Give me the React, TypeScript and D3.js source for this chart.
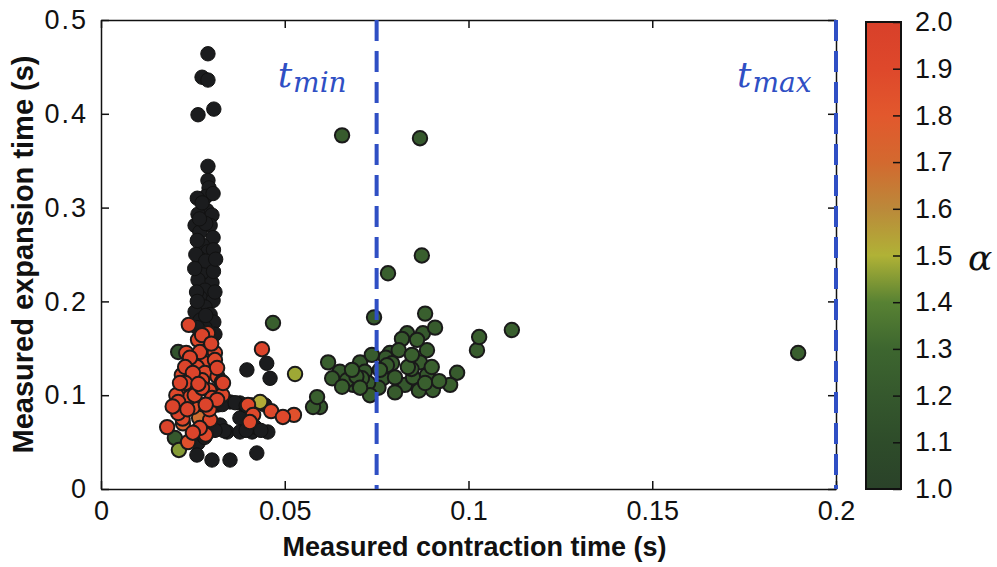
import React, { useEffect, useRef } from 'react';
import * as d3 from 'd3';

// axis ticks
const xTicks = [0, 0.05, 0.1, 0.15, 0.2];
const yTicks = [0, 0.1, 0.2, 0.3, 0.4, 0.5];
const alphaTicks = [1.0, 1.1, 1.2, 1.3, 1.4, 1.5, 1.6, 1.7, 1.8, 1.9, 2.0];
const tLines = [0.075, 0.2];

// points with no alpha value (drawn black): [contraction, expansion]
const blackPoints: [number, number][] = [
  [0.0291, 0.464], [0.0275, 0.439], [0.0291, 0.436], [0.0264, 0.399], [0.0307, 0.405],
  [0.0291, 0.344], [0.0291, 0.329], [0.0294, 0.321], [0.0286, 0.312], [0.0288, 0.297],
  [0.0264, 0.293], [0.0302, 0.292], [0.0256, 0.281], [0.0297, 0.281], [0.0269, 0.274],
  [0.0305, 0.268], [0.0276, 0.26], [0.0291, 0.253], [0.0267, 0.246], [0.0297, 0.239],
  [0.0278, 0.231], [0.0264, 0.223], [0.0302, 0.22], [0.0283, 0.212], [0.027, 0.204],
  [0.0305, 0.201], [0.0283, 0.194], [0.0256, 0.189], [0.0297, 0.186], [0.027, 0.18],
  [0.0307, 0.178], [0.0283, 0.172],
  [0.0262, 0.31], [0.0305, 0.315], [0.0275, 0.305], [0.0262, 0.265], [0.0306, 0.255],
  [0.0258, 0.25], [0.0285, 0.283], [0.0285, 0.243], [0.0306, 0.232], [0.026, 0.21],
  [0.031, 0.21], [0.0262, 0.2], [0.0285, 0.185], [0.0262, 0.172], [0.031, 0.165],
  [0.028, 0.158], [0.0255, 0.235], [0.0312, 0.245], [0.0268, 0.288],
  [0.0397, 0.127], [0.0451, 0.134], [0.046, 0.118], [0.0351, 0.0928], [0.0378, 0.0917],
  [0.0411, 0.0896], [0.0318, 0.0896], [0.0446, 0.0896], [0.0392, 0.0789], [0.0378, 0.0757],
  [0.0324, 0.0682], [0.0343, 0.0608], [0.0378, 0.0608], [0.0411, 0.0608], [0.0454, 0.0608],
  [0.0419, 0.0661], [0.0264, 0.049], [0.0261, 0.0362], [0.0302, 0.0309], [0.0351, 0.0309],
  [0.0424, 0.0384], [0.0335, 0.062], [0.0395, 0.0625], [0.0435, 0.0625], [0.031, 0.0625],
  [0.033, 0.09], [0.0365, 0.092], [0.0395, 0.089], [0.0282, 0.055],
];

// points with an alpha value: [contraction, expansion, alpha]
const colorPoints: [number, number, number][] = [
  // green cluster around t_min
  [0.0743, 0.183, 1.22], [0.0882, 0.187, 1.25], [0.0909, 0.172, 1.22], [0.0833, 0.166, 1.2],
  [0.0819, 0.16, 1.22], [0.086, 0.159, 1.25], [0.0876, 0.166, 1.2], [0.0887, 0.148, 1.22],
  [0.0618, 0.135, 1.25], [0.0737, 0.143, 1.22], [0.0705, 0.135, 1.2], [0.0792, 0.134, 1.22],
  [0.0683, 0.127, 1.25], [0.065, 0.125, 1.2], [0.0629, 0.118, 1.22], [0.0656, 0.109, 1.25],
  [0.0686, 0.111, 1.2], [0.0727, 0.113, 1.22], [0.0732, 0.1, 1.25], [0.0767, 0.118, 1.2],
  [0.08, 0.119, 1.22], [0.0835, 0.13, 1.25], [0.0868, 0.135, 1.22], [0.0887, 0.1215, 1.2],
  [0.0849, 0.119, 1.22], [0.0882, 0.113, 1.25], [0.0903, 0.1055, 1.22], [0.095, 0.111, 1.25],
  [0.0969, 0.124, 1.22], [0.0786, 0.145, 1.2], [0.0778, 0.132, 1.22], [0.0759, 0.127, 1.25],
  [0.0669, 0.116, 1.22], [0.0718, 0.125, 1.2], [0.081, 0.148, 1.22], [0.0846, 0.143, 1.25],
  [0.0827, 0.111, 1.2], [0.08, 0.103, 1.22], [0.0705, 0.108, 1.25],
  [0.071, 0.118, 1.22], [0.0755, 0.108, 1.2], [0.0845, 0.128, 1.22], [0.09, 0.13, 1.25],
  [0.0775, 0.14, 1.2], [0.0695, 0.12, 1.22], [0.092, 0.115, 1.25], [0.0865, 0.105, 1.22],
  [0.0588, 0.098, 1.25], [0.0577, 0.0874, 1.22], [0.0596, 0.0874, 1.2],
  [0.1029, 0.162, 1.25], [0.1023, 0.148, 1.22], [0.1118, 0.1695, 1.25], [0.1897, 0.145, 1.25],
  [0.0656, 0.377, 1.22], [0.0868, 0.374, 1.2], [0.0873, 0.249, 1.25], [0.0781, 0.23, 1.25],
  [0.0468, 0.177, 1.25], [0.021, 0.146, 1.15], [0.0201, 0.0544, 1.2],
  // yellow-olive points
  [0.0433, 0.0928, 1.52], [0.0528, 0.1226, 1.48], [0.0212, 0.0416, 1.45],
  [0.0267, 0.0757, 1.68], [0.0223, 0.07, 1.76],
  // red/orange points
  [0.0239, 0.175, 1.95], [0.0275, 0.164, 1.95], [0.0264, 0.159, 1.9], [0.0291, 0.166, 1.9],
  [0.0269, 0.146, 1.95], [0.031, 0.145, 1.9], [0.0242, 0.14, 1.95], [0.0278, 0.135, 1.9],
  [0.031, 0.1375, 1.9], [0.0229, 0.13, 1.95], [0.0261, 0.13, 1.9], [0.0316, 0.129, 1.95],
  [0.022, 0.1215, 1.9], [0.025, 0.1237, 1.95], [0.0283, 0.1237, 1.9], [0.0229, 0.113, 1.95],
  [0.0275, 0.116, 1.9], [0.0329, 0.114, 1.95], [0.0223, 0.1077, 1.9], [0.0275, 0.1077, 1.95],
  [0.0324, 0.1077, 1.9], [0.0242, 0.098, 1.9], [0.0302, 0.097, 1.95], [0.021, 0.0928, 1.95],
  [0.025, 0.0874, 1.85], [0.021, 0.081, 1.95], [0.0297, 0.0736, 1.9], [0.0269, 0.065, 1.95],
  [0.018, 0.066, 1.95], [0.0237, 0.05, 1.85], [0.0438, 0.149, 1.95], [0.0316, 0.095, 1.95],
  [0.04, 0.0896, 1.9], [0.0414, 0.079, 1.9], [0.0405, 0.0714, 1.9], [0.0463, 0.083, 1.9],
  [0.0495, 0.0768, 1.9], [0.0525, 0.079, 1.85], [0.0332, 0.113, 1.95],
  [0.0205, 0.1, 1.9], [0.0235, 0.085, 1.95], [0.0255, 0.1, 1.9], [0.0285, 0.09, 1.95],
  [0.0295, 0.085, 1.9], [0.0232, 0.145, 1.9], [0.03, 0.155, 1.95], [0.0215, 0.113, 1.95],
  [0.0317, 0.12, 1.9], [0.0265, 0.112, 1.95], [0.0295, 0.105, 1.9], [0.0222, 0.075, 1.9],
  [0.025, 0.06, 1.95], [0.0285, 0.058, 1.9], [0.0195, 0.088, 1.95], [0.033, 0.1, 1.9],
];

// colour map
const cmapStops = [1.0, 1.1, 1.2, 1.3, 1.4, 1.5, 1.6, 1.7, 1.8, 1.9, 2.0];
const cmapColors = ['#2a4229', '#2e4c2a', '#35582d', '#3d662f', '#588233', '#b0b236',
  '#bb893a', '#d3692f', '#e2582d', '#de482b', '#d8402a'];

const W = 997, H = 567;
const plot = { left: 101, right: 836, top: 20, bottom: 489 };
const bar = { left: 866, right: 901, top: 22, bottom: 489 };
const font = '"Liberation Sans", Arial, Helvetica, sans-serif';
const serif = '"DejaVu Serif", "Liberation Serif", serif';

export default function App() {
  const ref = useRef<SVGSVGElement>(null);

  useEffect(() => {
    const svg = d3.select(ref.current);
    svg.selectAll('*').remove();

    const x = d3.scaleLinear().domain([0, 0.2]).range([plot.left, plot.right]);
    const y = d3.scaleLinear().domain([0, 0.5]).range([plot.bottom, plot.top]);
    const a = d3.scaleLinear().domain([1, 2]).range([bar.bottom, bar.top]);
    const cmap = d3.scaleLinear<string>().domain(cmapStops).range(cmapColors).interpolate(d3.interpolateRgb);

    // points: black first, then coloured by increasing alpha
    const pts = svg.append('g');
    pts.selectAll('.blk')
      .data(blackPoints)
      .enter()
      .append('circle')
        .attr('cx', d => x(d[0]))
        .attr('cy', d => y(d[1]))
        .attr('r', 7.2)
        .attr('fill', '#1b1c1e')
        .attr('stroke', '#111')
        .attr('stroke-width', 1);

    const sorted = colorPoints.slice().sort((p, q) => p[2] - q[2]);
    pts.selectAll('.col')
      .data(sorted)
      .enter()
      .append('circle')
        .attr('cx', d => x(d[0]))
        .attr('cy', d => y(d[1]))
        .attr('r', 7.2)
        .attr('fill', d => cmap(d[2]))
        .attr('stroke', '#1a1a1a')
        .attr('stroke-width', 2);

    // frame + inward ticks
    const axisStyle = (g: any) => {
      g.selectAll('path').attr('stroke', '#111').attr('stroke-width', 1.5);
      g.selectAll('line').attr('stroke', '#111').attr('stroke-width', 1.5);
      g.selectAll('text').attr('font-family', font).attr('font-size', 27).attr('fill', '#111');
    };
    svg.append('g')
      .attr('transform', `translate(0,${plot.bottom})`)
      .call(d3.axisBottom(x).tickValues(xTicks).tickSizeInner(-8).tickSizeOuter(0).tickPadding(12).tickFormat(d => String(d)))
      .call(axisStyle);
    svg.append('g')
      .attr('transform', `translate(${plot.left},0)`)
      .call(d3.axisLeft(y).tickValues(yTicks).tickSizeInner(-8).tickSizeOuter(0).tickPadding(13).tickFormat(d => String(d)))
      .call(axisStyle)
      .call(g => g.selectAll('text').attr('letter-spacing', 2));
    svg.append('g')
      .attr('transform', `translate(0,${plot.top})`)
      .call(d3.axisTop(x).tickValues(xTicks).tickSizeInner(-8).tickSizeOuter(0).tickFormat(() => ''))
      .call(axisStyle);
    svg.append('g')
      .attr('transform', `translate(${plot.right},0)`)
      .call(d3.axisRight(y).tickValues(yTicks).tickSizeInner(-8).tickSizeOuter(0).tickFormat(() => ''))
      .call(axisStyle);

    // t_min / t_max dashed lines
    svg.selectAll('.tline')
      .data(tLines)
      .enter()
      .append('line')
        .attr('x1', d => x(d)).attr('x2', d => x(d))
        .attr('y1', plot.top).attr('y2', plot.bottom)
        .attr('stroke', '#2f4fc4')
        .attr('stroke-width', 4)
        .attr('stroke-dasharray', '21 10');

    const tLabel = (xpos: number, sub: string) => {
      const t = svg.append('text')
        .attr('x', xpos).attr('y', 87)
        .attr('font-family', serif)
        .attr('font-style', 'italic')
        .attr('fill', '#2f4fc4');
      t.append('tspan').attr('font-size', 36).text('t');
      t.append('tspan').attr('font-size', 28).attr('dy', 5).attr('dx', 1).text(sub);
    };
    tLabel(x(0.075) - 99, 'min');
    tLabel(x(0.2) - 99, 'max');

    // axis titles
    svg.append('text')
      .attr('x', x(0.1) + 6).attr('y', 556)
      .attr('text-anchor', 'middle')
      .attr('font-family', font).attr('font-weight', 'bold').attr('font-size', 27)
      .attr('fill', '#111')
      .text('Measured contraction time (s)');
    svg.append('text')
      .attr('transform', `translate(33,${(plot.top + plot.bottom) / 2}) rotate(-90)`)
      .attr('text-anchor', 'middle')
      .attr('font-family', font).attr('font-weight', 'bold').attr('font-size', 29)
      .attr('fill', '#111')
      .text('Measured expansion time (s)');

    // colour bar
    const grad = svg.append('defs').append('linearGradient')
      .attr('id', 'alphaGrad')
      .attr('x1', 0).attr('y1', 1).attr('x2', 0).attr('y2', 0);
    grad.selectAll('stop')
      .data(cmapStops)
      .enter()
      .append('stop')
        .attr('offset', d => d - 1)
        .attr('stop-color', d => cmap(d));
    svg.append('rect')
      .attr('x', bar.left).attr('y', bar.top)
      .attr('width', bar.right - bar.left).attr('height', bar.bottom - bar.top)
      .attr('fill', 'url(#alphaGrad)')
      .attr('stroke', '#111').attr('stroke-width', 2);
    svg.append('g')
      .attr('transform', `translate(${bar.right},0)`)
      .call(d3.axisRight(a).tickValues(alphaTicks).tickSizeInner(-8).tickSizeOuter(0).tickPadding(14).tickFormat(d3.format('.1f')))
      .call(axisStyle)
      .call(g => g.select('.domain').remove());
    svg.append('text')
      .attr('x', 968).attr('y', 270)
      .attr('font-family', serif)
      .attr('font-style', 'italic').attr('font-size', 36)
      .attr('fill', '#111')
      .text('α');
  }, []);

  return (
    <div style={{ position: 'absolute', left: 0, top: 0, background: '#fff' }}>
      <svg ref={ref} width={W} height={H} style={{ display: 'block' }} />
    </div>
  );
}
